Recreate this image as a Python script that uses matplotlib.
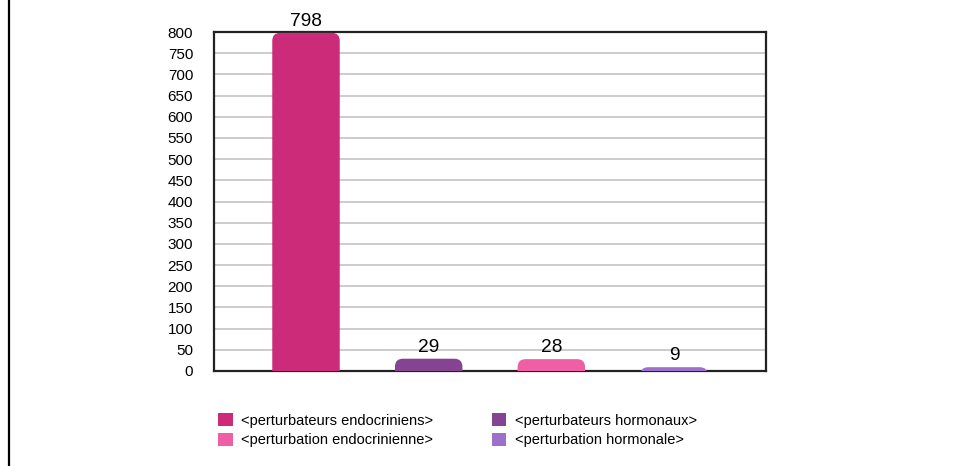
import matplotlib
matplotlib.use("Agg")
import matplotlib.pyplot as plt
from matplotlib.patches import FancyBboxPatch, Patch
from matplotlib.lines import Line2D

categories = ["<perturbateurs endocriniens>", "<perturbateurs hormonaux>",
              "<perturbation endocrinienne>", "<perturbation hormonale>"]
values = [798, 29, 28, 9]
colors = ["#CC2B7A", "#844491", "#EE5FA6", "#9D70CA"]
yticks = list(range(0, 801, 50))

plt.rcParams['font.family'] = ['Liberation Sans', 'DejaVu Sans']

W, H = 969, 466
fig = plt.figure(figsize=(W / 100, H / 100), dpi=100)
ax = fig.add_axes([214 / W, 1 - 371 / H, (766 - 214) / W, (371 - 32) / H])

ax.set_xlim(-0.75, 3.75)
ax.set_ylim(0, 800)
ax.set_yticks(yticks)
ax.set_xticks([])
ax.tick_params(axis='y', length=0, labelsize=11, pad=15)
ax.grid(axis='y', color='#C8C8C8', linewidth=1.3)
ax.set_axisbelow(True)
for s in ax.spines.values():
    s.set_color('#222222')
    s.set_linewidth(1.6)

width = 0.55
ax_w_px = 766 - 214
ax_h_px = 371 - 32
xpp = 4.5 / ax_w_px
ypp = 800 / ax_h_px
r_px = 8
aspect = ypp / xpp
for i, (v, c) in enumerate(zip(values, colors)):
    r = r_px * xpp
    p = FancyBboxPatch((i - width / 2, -20), width, v + 20,
                       boxstyle=f"round,pad=0,rounding_size={r}",
                       mutation_aspect=aspect, facecolor=c, edgecolor='none',
                       clip_on=True, zorder=3)
    ax.add_patch(p)
    ax.text(i, v + 7 * ypp, str(v), ha='center', va='baseline', fontsize=13.8,
            zorder=4, clip_on=False)

# left page border line
fig.add_artist(Line2D([8.5 / W, 8.5 / W], [0, 1], color='black', linewidth=1.6))

order = [0, 2, 1, 3]
handles = [Patch(facecolor=colors[k], edgecolor='none') for k in order]
labels = [categories[k] for k in order]
fig.legend(handles, labels, ncol=2, frameon=False, fontsize=10.5,
           loc='upper left', bbox_to_anchor=(218 / W, 1 - 413 / H),
           borderaxespad=0, borderpad=0,
           handlelength=1.0, handleheight=1.0, handletextpad=0.6,
           columnspacing=4.0, labelspacing=0.35)

fig.savefig("out.png", dpi=100)
